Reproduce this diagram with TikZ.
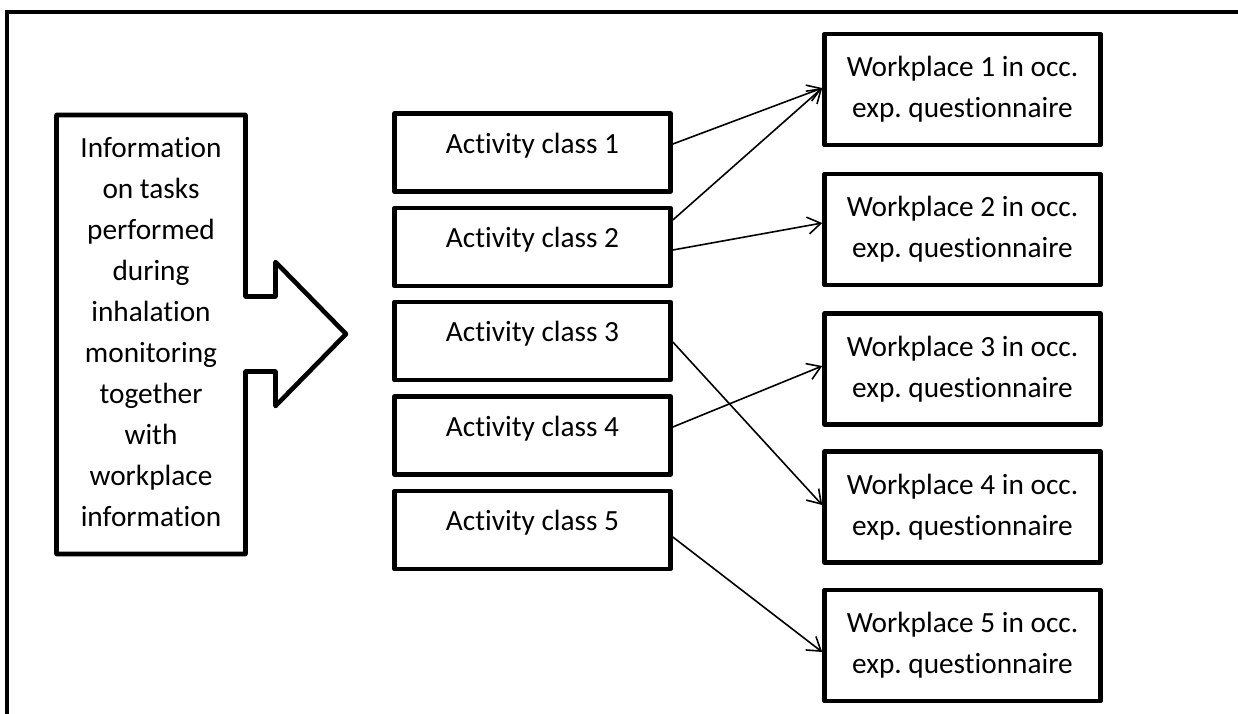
\documentclass[tikz,border=0pt]{standalone}
\usepackage{fontspec}
\setmainfont{Carlito}[Ligatures=NoCommon]
\usetikzlibrary{arrows.meta}
\frenchspacing
\begin{document}
\begin{tikzpicture}[x=1pt,y=-1pt,
  thickline/.style={line width=4.6pt,line join=round},
  actbox/.style={draw,thickline,minimum width=276pt,minimum height=78pt,inner sep=0pt,anchor=center},
  wpbox/.style={draw,thickline,minimum width=276pt,minimum height=111pt,inner sep=0pt,align=center,
     font=\fontsize{29.3pt}{41pt}\selectfont},
  lbl/.style={inner sep=0pt,font=\fontsize{29.3pt}{41pt}\selectfont},
  conn/.style={line width=1.6pt,-{Straight Barb[length=13pt,width=17pt,line width=1.6pt]}}]
\useasboundingbox (0,0) rectangle (1238,713);
% outer frame (cropped)
\draw[line width=4.4pt] (7,730) -- (7,12) -- (1250,12);
% information box with arrow
\draw[thickline] (56.5,115) -- (245.5,115) -- (245.5,296.5) -- (275.5,296.5) -- (275.5,262)
  -- (346,334) -- (275.5,406) -- (275.5,371.5) -- (245.5,371.5) -- (245.5,554) -- (56.5,554) -- cycle;
\node[lbl,align=center] (info) at (151,332) {Information\\on tasks\\performed\\during\\inhalation\\monitoring\\together\\with\\workplace\\information};
% activity boxes
\foreach \i/\y in {1/152.5,2/247,3/341,4/435.5,5/530}{
  \node[actbox] (a\i) at (532.5,\y) {};
  \node[lbl] (t\i) at (532.5,\y-7) {Activity class \i};
}
% workplace boxes
\foreach \i/\y in {1/89.5,2/229.5,3/369,4/507,5/645.5}{
  \node[wpbox] (w\i) at (962.5,\y) {Workplace \i{} in occ.\\exp. questionnaire};
}
% connectors
\draw[conn] ([yshift=8.5pt]a1.east) -- ([yshift=1.5pt]w1.west);
\draw[conn] ([yshift=27pt]a2.east) -- ([yshift=1.5pt]w1.west);
\draw[conn] ([yshift=-3pt]a2.east) -- ([yshift=6.5pt]w2.west);
\draw[conn] ([yshift=-1pt]a3.east) -- ([yshift=2pt]w4.west);
\draw[conn] ([yshift=8.5pt]a4.east) -- ([yshift=3pt]w3.west);
\draw[conn] ([yshift=-7pt]a5.east) -- ([yshift=-6.5pt]w5.west);
\end{tikzpicture}
\end{document}
